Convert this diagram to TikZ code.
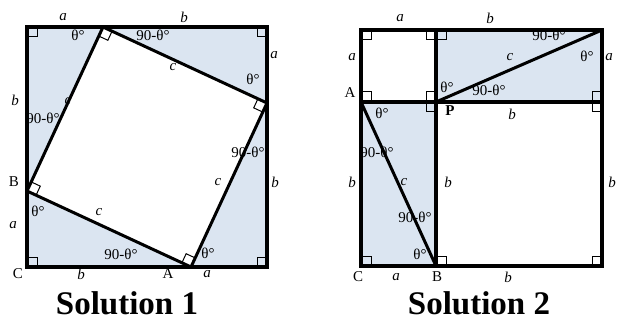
\documentclass[tikz,border=0pt]{standalone}
\usepackage{fontspec}
\setmainfont{Liberation Serif}
\usetikzlibrary{calc}
\definecolor{shade}{RGB}{219,229,241}
\tikzset{
  lbl/.style={inner sep=0pt,font=\fontsize{15}{15}\selectfont},
  ttl/.style={inner sep=0pt,anchor=base,text depth=0pt,font=\fontsize{33}{33}\selectfont\bfseries},
  rmark/.style={draw=black,line width=1pt},
  outerline/.style={draw=black,line width=4pt},
  innerline/.style={draw=black,line width=3pt},
  divline/.style={draw=black,line width=3.5pt},
  shaded/.style={fill=shade,draw=none}
}
\newcommand\ramark[3]{\draw[rmark] ($(#1)!10pt!(#2)$) -- ($(#1)!10pt!(#2) + (#1)!10pt!(#3) - (#1)$) -- ($(#1)!10pt!(#3)$);}
\begin{document}
\begin{tikzpicture}[x=1pt,y=-1pt]
\useasboundingbox (0,0) rectangle (636,320);
% ---------- Solution 1 coordinates
\coordinate (s1tl) at (27,27);
\coordinate (s1tr) at (267,27);
\coordinate (s1br) at (267,267);
\coordinate (s1bl) at (27,267);
\coordinate (p1) at (103,27);
\coordinate (p2) at (267,103);
\coordinate (p3) at (191,267);
\coordinate (p4) at (27,191);
% ---------- Solution 2 coordinates
\coordinate (q1) at (361,30);
\coordinate (q2) at (436,30);
\coordinate (q3) at (602,30);
\coordinate (q4) at (361,102);
\coordinate (q5) at (436,102);
\coordinate (q6) at (602,102);
\coordinate (q7) at (361,266);
\coordinate (q8) at (436,266);
\coordinate (q9) at (602,266);
% ---------- fills
\fill[shaded] (s1tl) -- (p1) -- (p4) -- cycle;
\fill[shaded] (p1) -- (s1tr) -- (p2) -- cycle;
\fill[shaded] (p2) -- (s1br) -- (p3) -- cycle;
\fill[shaded] (p3) -- (s1bl) -- (p4) -- cycle;
\fill[shaded] (q2) rectangle (q6);
\fill[shaded] (q4) rectangle (q8);
% ---------- right-angle marks
\ramark{s1tl}{s1tr}{s1bl}
\ramark{s1tr}{s1tl}{s1br}
\ramark{s1br}{s1tr}{s1bl}
\ramark{s1bl}{s1br}{s1tl}
\ramark{p1}{p4}{p2}
\ramark{p2}{p1}{p3}
\ramark{p3}{p2}{p4}
\ramark{p4}{p3}{p1}
\ramark{q1}{q2}{q4}
\ramark{q2}{q1}{q5}
\ramark{q2}{q3}{q5}
\ramark{q4}{q1}{q5}
\ramark{q5}{q4}{q2}
\ramark{q5}{q4}{q8}
\ramark{q6}{q5}{q3}
\ramark{q6}{q5}{q9}
\ramark{q7}{q4}{q9}
\ramark{q8}{q5}{q9}
\ramark{q9}{q6}{q8}
% ---------- labels Solution 1
\node[lbl] (l1a) at (63,17) {\itshape a};
\node[lbl] (l1b) at (184,17) {\itshape b};
\node[lbl] (l1t1) at (78,35) {θ°};
\node[lbl] (l1n1) at (153,35) {90-θ°};
\node[lbl] (l1c1) at (173,67) {\itshape c};
\node[lbl] (l1ra) at (274,55) {\itshape a};
\node[lbl] (l1t2) at (253,79) {θ°};
\node[lbl] (l1lb) at (15,100) {\itshape b};
\node[lbl] (l1c2) at (68,101) {\itshape c};
\node[lbl] (l1n2) at (43,118) {90-θ°};
\node[lbl] (l1n3) at (248,152) {90-θ°};
\node[lbl] (l1c3) at (218,182) {\itshape c};
\node[lbl] (l1rb) at (275,182) {\itshape b};
\node[lbl] (l1B) at (14,182) {B};
\node[lbl] (l1t3) at (38,211) {θ°};
\node[lbl] (l1c4) at (99,212) {\itshape c};
\node[lbl] (l1la) at (13,225) {\itshape a};
\node[lbl] (l1n4) at (121,254) {90-θ°};
\node[lbl] (l1t4) at (208,253) {θ°};
\node[lbl] (l1C) at (18,274) {C};
\node[lbl] (l1bb) at (81,274) {\itshape b};
\node[lbl] (l1A) at (168,274) {A};
\node[lbl] (l1ba) at (207,274) {\itshape a};
% ---------- labels Solution 2
\node[lbl] (l2a) at (400,18) {\itshape a};
\node[lbl] (l2b) at (490,18) {\itshape b};
\node[lbl] (l2la) at (352,57) {\itshape a};
\node[lbl] (l2n1) at (549,35) {90-θ°};
\node[lbl] (l2c1) at (510,57) {\itshape c};
\node[lbl] (l2t1) at (587,56) {θ°};
\node[lbl] (l2ra) at (609,57) {\itshape a};
\node[lbl] (l2t2) at (447,87) {θ°};
\node[lbl] (l2n2) at (489,90) {90-θ°};
\node[lbl] (l2A) at (350,93) {A};
\node[lbl] (l2P) at (450,111) {\bfseries P};
\node[lbl] (l2mb) at (512,114) {\itshape b};
\node[lbl] (l2t3) at (382,113) {θ°};
\node[lbl] (l2n3) at (377,152) {90-θ°};
\node[lbl] (l2lb) at (352,182) {\itshape b};
\node[lbl] (l2c2) at (404,182) {\itshape c};
\node[lbl] (l2ib) at (448,182) {\itshape b};
\node[lbl] (l2rb) at (612,182) {\itshape b};
\node[lbl] (l2n4) at (415,217) {90-θ°};
\node[lbl] (l2t4) at (420,254) {θ°};
\node[lbl] (l2C) at (358,277) {C};
\node[lbl] (l2ba) at (396,277) {\itshape a};
\node[lbl] (l2B) at (437,277) {B};
\node[lbl] (l2bb) at (508,277) {\itshape b};
% ---------- lines
\draw[outerline] (s1tl) -- (s1tr) -- (s1br) -- (s1bl) -- cycle;
\draw[innerline] (p1) -- (p2) -- (p3) -- (p4) -- cycle;
\draw[divline] (q1) -- (q3) -- (q9) -- (q7) -- cycle;
\draw[divline] (q2) -- (q8);
\draw[divline] (q4) -- (q6);
\draw[innerline] (q5) -- (q3);
\draw[innerline] (q4) -- (q8);
% ---------- titles
\node[ttl] (title1) at (127,314) {Solution 1};
\node[ttl] (title2) at (479,314) {Solution 2};
\end{tikzpicture}
\end{document}
